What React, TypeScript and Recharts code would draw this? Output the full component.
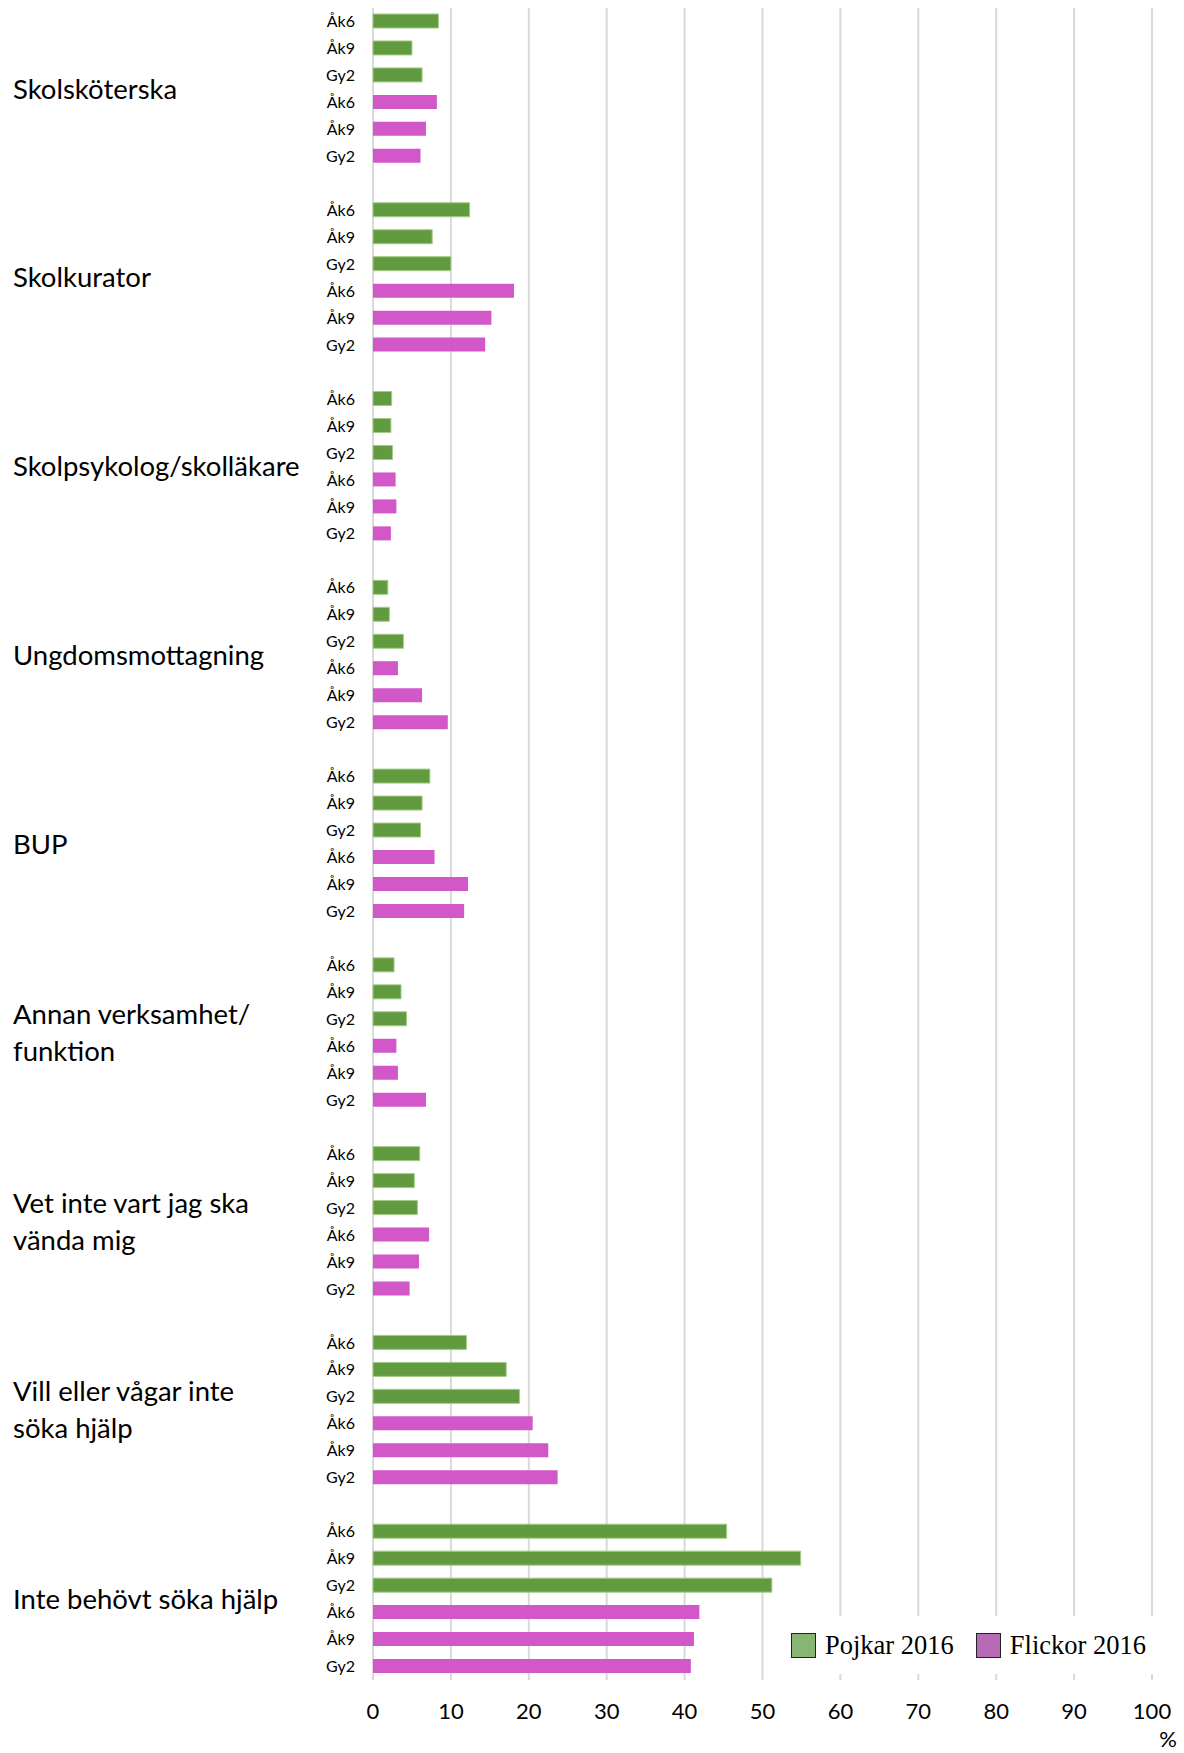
import { BarChart, Bar, XAxis, YAxis, CartesianGrid, Cell, Legend, Label } from 'recharts';

const groupLabels: string[][] = [
  ['Skolsköterska'],
  ['Skolkurator'],
  ['Skolpsykolog/skolläkare'],
  ['Ungdomsmottagning'],
  ['BUP'],
  ['Annan verksamhet/', 'funktion'],
  ['Vet inte vart jag ska', 'vända mig'],
  ['Vill eller vågar inte', 'söka hjälp'],
  ['Inte behövt söka hjälp'],
];

const grades = ['Åk6', 'Åk9', 'Gy2'];

// three values per group (Åk6, Åk9, Gy2), in the order of groupLabels
const pojkar2016 = [
  8.4, 5.0, 6.3,
  12.4, 7.6, 10.0,
  2.4, 2.3, 2.5,
  1.9, 2.1, 3.9,
  7.3, 6.3, 6.1,
  2.7, 3.6, 4.3,
  6.0, 5.3, 5.7,
  12.0, 17.1, 18.8,
  45.4, 54.9, 51.2,
];

const flickor2016 = [
  8.2, 6.8, 6.1,
  18.1, 15.2, 14.4,
  2.9, 3.0, 2.3,
  3.2, 6.3, 9.6,
  7.9, 12.2, 11.7,
  3.0, 3.2, 6.8,
  7.2, 5.9, 4.7,
  20.5, 22.5, 23.7,
  41.9, 41.2, 40.8,
];

const seriesNames = ['Pojkar 2016', 'Flickor 2016'];
const xTicks = [0, 10, 20, 30, 40, 50, 60, 70, 80, 90, 100];

const barColors = ['#629B3F', '#D257C8'];
const legendColors = ['#88B574', '#B66AB3'];

type Row = { key: string; grade: string; value: number | null; series: number; group: number; pos: number };

const rows: Row[] = [];
groupLabels.forEach((_, g) => {
  if (g > 0) rows.push({ key: `gap${g}`, grade: '', value: null, series: -1, group: g, pos: -1 });
  grades.forEach((grade, i) =>
    rows.push({ key: `p${g}-${i}`, grade, value: pojkar2016[g * 3 + i], series: 0, group: g, pos: i })
  );
  grades.forEach((grade, i) =>
    rows.push({ key: `f${g}-${i}`, grade, value: flickor2016[g * 3 + i], series: 1, group: g, pos: 3 + i })
  );
});
const rowByKey: Record<string, Row> = {};
rows.forEach(r => (rowByKey[r.key] = r));

const W = 1184;
const H = 1753;
const margin = { top: 8, right: 32, left: 0, bottom: 0 };
const yAxisWidth = 373;
const xAxisHeight = 73;
const slot = (H - margin.top - margin.bottom - xAxisHeight) / rows.length;

const sans = 'Lato, "Open Sans", sans-serif';

const YTick = (props: any) => {
  const { x, y, payload } = props;
  const row = rowByKey[payload?.value];
  if (!row || !row.grade) return <g />;
  const lines = groupLabels[row.group];
  const mid = y + slot / 2;
  return (
    <g>
      <text x={x} y={y} dy="0.35em" textAnchor="end" fontSize={16} fill="#000" fontFamily={sans}>
        {row.grade}
      </text>
      {row.pos === 2 &&
        lines.map((line, i) => (
          <text
            key={i}
            x={13}
            y={mid + (i - (lines.length - 1) / 2) * 37}
            dy="0.35em"
            fontSize={27.5}
            fill="#000"
            fontFamily={sans}
          >
            {line}
          </text>
        ))}
    </g>
  );
};

const XTick = (props: any) => {
  const { x, y, payload } = props;
  return (
    <text x={x} y={y + 31} dy="0.35em" textAnchor="middle" fontSize={22} fill="#000" fontFamily={sans}>
      {payload.value}
    </text>
  );
};

const LegendBox = () => (
  <div
    style={{
      display: 'flex',
      alignItems: 'center',
      height: '100%',
      paddingLeft: 25,
      fontFamily: '"Liberation Serif", "Times New Roman", serif',
      fontSize: 26.5,
      color: '#000',
    }}
  >
    {seriesNames.map((name, i) => (
      <div key={name} style={{ display: 'flex', alignItems: 'center', marginRight: 22 }}>
        <span
          style={{
            display: 'inline-block',
            width: 23,
            height: 23,
            background: legendColors[i],
            border: '1.5px solid #222',
            marginRight: 9,
          }}
        />
        {name}
      </div>
    ))}
  </div>
);

export default function App() {
  return (
    <div style={{ position: 'absolute', left: 0, top: 0, background: '#fff' }}>
      <BarChart width={W} height={H} data={rows} layout="vertical" margin={margin}>
        <CartesianGrid horizontal={false} stroke="#D9D9D9" strokeWidth={2} />
        <XAxis
          type="number"
          domain={[0, 100]}
          ticks={xTicks}
          height={xAxisHeight}
          axisLine={false}
          tickLine={false}
          tickSize={0}
          tickMargin={0}
          tick={<XTick />}
          interval={0}
        >
          <Label
            value="%"
            position="insideBottomRight"
            offset={0}
            dx={25}
            dy={-6}
            style={{ fontSize: 22, fill: '#000', fontFamily: sans }}
          />
        </XAxis>
        <YAxis
          type="category"
          dataKey="key"
          width={yAxisWidth}
          axisLine={false}
          tickLine={false}
          tickSize={0}
          tickMargin={18}
          interval={0}
          tick={<YTick />}
        />
        <Legend
          layout="horizontal"
          verticalAlign="middle"
          align="center"
          wrapperStyle={{ left: 766, top: 1616, width: 418, height: 58, background: '#fff' }}
          content={() => <LegendBox />}
        />
        <Bar dataKey="value" barSize={14} isAnimationActive={false}>
          {rows.map(r => (
            <Cell
              key={r.key}
              fill={r.series === 1 ? barColors[1] : barColors[0]}
              stroke={r.series === 0 ? '#A3CB88' : 'none'}
              strokeWidth={r.series === 0 ? 1 : 0}
            />
          ))}
        </Bar>
      </BarChart>
    </div>
  );
}
